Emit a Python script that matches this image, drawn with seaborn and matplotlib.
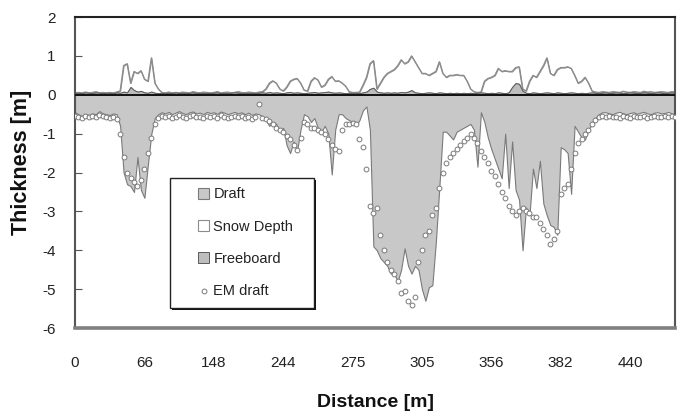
import matplotlib
matplotlib.use("Agg")
import matplotlib.pyplot as plt
from matplotlib.patches import Rectangle
import numpy as np
import pandas as pd
import seaborn as sns

# Along-track profile: one value per sample, labelled by distance every 20 samples
draft = [
    -0.45, -0.50, -0.55, -0.50, -0.52, -0.48, -0.50, -0.42, -0.48, -0.50,
    -0.52, -0.48, -0.50, -0.80, -2.00, -2.30, -2.35, -2.50, -1.60, -2.45,
    -2.65, -1.80, -1.00, -0.60, -0.50, -0.45, -0.48, -0.44, -0.50, -0.46,
    -0.42, -0.47, -0.50, -0.45, -0.43, -0.48, -0.46, -0.50, -0.44, -0.47,
    -0.45, -0.49, -0.43, -0.46, -0.50, -0.47, -0.44, -0.48, -0.45, -0.50,
    -0.46, -0.52, -0.48, -0.50, -0.55, -0.65, -0.80, -0.70, -0.75, -0.95,
    -0.85, -1.30, -1.50, -1.20, -1.45, -0.90, -0.50, -0.55, -0.70, -0.60,
    -0.85, -0.95, -0.80, -1.00, -2.05, -0.90, -0.50, -0.50, -0.60, -0.65,
    -0.70, -0.80, -0.65, -0.40, -0.30, -0.90, -3.90, -4.00, -4.20, -4.30,
    -4.40, -4.60, -4.60, -4.80, -4.50, -3.95, -4.40, -4.60, -4.40, -4.50,
    -5.00, -5.30, -4.95, -4.90, -3.80, -2.40, -0.95, -0.95, -1.05, -1.15,
    -0.95, -0.90, -0.85, -0.80, -0.75, -0.90, -1.85, -0.45, -0.70, -1.10,
    -1.40, -1.65, -1.90, -2.15, -1.00, -2.40, -1.20, -2.45, -2.70, -4.00,
    -2.90, -3.10, -1.90, -2.40, -1.70, -2.80, -3.10, -3.35, -3.40, -3.60,
    -1.35, -1.40, -1.50, -2.55, -0.80, -0.95, -1.10, -1.15, -0.90, -0.75,
    -0.60, -0.50, -0.45, -0.45, -0.48, -0.50, -0.46, -0.44, -0.48, -0.50,
    -0.47, -0.45, -0.49, -0.46, -0.44, -0.48, -0.50, -0.46, -0.45, -0.48,
    -0.47, -0.44, -0.48, -0.50,
]

em_draft = [
    -0.55, -0.58, -0.60, -0.55, -0.57, -0.54, -0.58, -0.52, -0.55, -0.58,
    -0.60, -0.56, -0.62, -1.00, -1.60, -2.00, -2.15, -2.25, -2.35, -2.20,
    -1.90, -1.50, -1.10, -0.75, -0.60, -0.55, -0.58, -0.54, -0.60, -0.56,
    -0.52, -0.57, -0.60, -0.55, -0.53, -0.58, -0.56, -0.60, -0.54, -0.57,
    -0.55, -0.59, -0.53, -0.56, -0.60, -0.57, -0.54, -0.58, -0.55, -0.60,
    -0.56, -0.62, -0.58, -0.25, -0.60, -0.62, -0.68, -0.75, -0.85, -0.90,
    -0.95, -1.05, -1.15, -1.30, -1.42, -1.10, -0.70, -0.75, -0.85, -0.85,
    -0.90, -0.95, -1.00, -1.15, -1.30, -1.40, -1.45, -0.90, -0.75, -0.75,
    -0.72, -0.75, -1.15, -1.35, -1.90, -2.85, -3.05, -2.90, -3.60, -4.00,
    -4.30, -4.50, -4.60, -4.80, -5.10, -5.05, -5.30, -5.40, -5.20, -4.30,
    -4.00, -3.60, -3.50, -3.10, -2.90, -2.40, -2.00, -1.75, -1.60, -1.50,
    -1.40, -1.30, -1.20, -1.10, -1.00, -1.10, -1.25, -1.45, -1.60, -1.75,
    -1.95, -2.10, -2.30, -2.50, -2.65, -2.85, -3.00, -3.10, -3.00, -2.90,
    -3.00, -3.05, -3.15, -3.15, -3.30, -3.45, -3.60, -3.85, -3.70, -3.50,
    -2.55, -2.40, -2.30, -1.90, -1.50, -1.25, -1.15, -1.00, -0.90, -0.75,
    -0.65, -0.58, -0.55, -0.57, -0.54, -0.58, -0.56, -0.60, -0.55, -0.57,
    -0.59, -0.54, -0.56, -0.58, -0.55, -0.60, -0.57, -0.55, -0.58, -0.56,
    -0.54, -0.57, -0.55, -0.58,
]

# Top of the snow layer (freeboard + snow depth)
snow_top = [
    0.05, 0.06, 0.05, 0.07, 0.05, 0.06, 0.08, 0.05, 0.06, 0.05,
    0.06, 0.05, 0.07, 0.10, 0.75, 0.80, 0.30, 0.60, 0.55, 0.62,
    0.40, 0.35, 0.95, 0.30, 0.15, 0.06, 0.05, 0.07, 0.05, 0.06,
    0.05, 0.07, 0.06, 0.05, 0.08, 0.06, 0.05, 0.07, 0.06, 0.05,
    0.06, 0.08, 0.05, 0.06, 0.07, 0.05, 0.06, 0.08, 0.06, 0.05,
    0.07, 0.06, 0.05, 0.07, 0.08, 0.15, 0.30, 0.36, 0.30, 0.15,
    0.10, 0.20, 0.35, 0.40, 0.42, 0.30, 0.12, 0.10, 0.35, 0.44,
    0.38, 0.20, 0.25, 0.40, 0.47, 0.35, 0.36, 0.30, 0.22, 0.08,
    0.06, 0.06, 0.07, 0.25, 0.45, 0.80, 0.88, 0.15, 0.30, 0.45,
    0.55, 0.60, 0.65, 0.75, 0.90, 0.80, 0.85, 1.00, 0.85, 0.70,
    0.55, 0.55, 0.50, 0.55, 0.60, 0.85, 0.55, 0.45, 0.50, 0.50,
    0.52, 0.50, 0.50, 0.35, 0.15, 0.08, 0.06, 0.07, 0.35, 0.42,
    0.45, 0.50, 0.68, 0.60, 0.62, 0.60, 0.60, 0.70, 0.72, 0.15,
    0.10, 0.35, 0.50, 0.45, 0.60, 0.75, 0.95, 0.55, 0.50, 0.65,
    0.70, 0.70, 0.72, 0.68, 0.50, 0.30, 0.35, 0.45, 0.30, 0.10,
    0.07, 0.06, 0.08, 0.07, 0.06, 0.08, 0.07, 0.06, 0.09, 0.07,
    0.06, 0.08, 0.07, 0.06, 0.09, 0.07, 0.08, 0.06, 0.07, 0.08,
    0.07, 0.06, 0.08, 0.07,
]

freeboard = [
    0.04, 0.05, 0.04, 0.06, 0.05, 0.04, 0.06, 0.05, 0.04, 0.05,
    0.05, 0.04, 0.06, 0.05, 0.08, 0.06, 0.20, 0.12, 0.08, 0.10,
    0.06, 0.05, 0.08, 0.05, 0.04, 0.05, 0.04, 0.05, 0.04, 0.06,
    0.04, 0.05, 0.04, 0.05, 0.06, 0.04, 0.05, 0.04, 0.05, 0.04,
    0.05, 0.06, 0.04, 0.05, 0.04, 0.05, 0.06, 0.05, 0.04, 0.05,
    0.04, 0.05, 0.04, 0.05, 0.06, 0.05, 0.07, 0.05, 0.06, 0.05,
    0.04, 0.06, 0.07, 0.05, 0.06, 0.05, 0.04, 0.05, 0.06, 0.07,
    0.05, 0.06, 0.07, 0.08, 0.06, 0.05, 0.06, 0.05, 0.04, 0.05,
    0.04, 0.05, 0.04, 0.06, 0.08, 0.15, 0.18, 0.08, 0.06, 0.05,
    0.06, 0.05, 0.06, 0.05, 0.07, 0.06, 0.08, 0.12, 0.06, 0.05,
    0.04, 0.05, 0.06, 0.05, 0.04, 0.06, 0.05, 0.04, 0.05, 0.04,
    0.05, 0.04, 0.05, 0.04, 0.05, 0.04, 0.05, 0.06, 0.05, 0.04,
    0.05, 0.04, 0.06, 0.05, 0.04, 0.06, 0.20, 0.30, 0.28, 0.10,
    0.05, 0.04, 0.06, 0.05, 0.04, 0.05, 0.06, 0.05, 0.04, 0.06,
    0.05, 0.04, 0.05, 0.06, 0.05, 0.04, 0.05, 0.04, 0.05, 0.06,
    0.05, 0.04, 0.05, 0.06, 0.04, 0.05, 0.06, 0.05, 0.04, 0.05,
    0.06, 0.05, 0.04, 0.05, 0.06, 0.05, 0.04, 0.05, 0.06, 0.05,
    0.04, 0.05, 0.06, 0.05,
]

distance_labels = ["0", "66", "148", "244", "275", "305", "356", "382", "440"]
label_step = 20
y_ticks = [2, 1, 0, -1, -2, -3, -4, -5, -6]

sample = np.arange(len(draft))
df = pd.DataFrame({
    "sample": sample,
    "draft": draft,
    "em_draft": em_draft,
    "snow_top": snow_top,
    "freeboard": freeboard,
})

sns.set_style("white")
plt.rcParams["font.family"] = ["Liberation Sans", "DejaVu Sans"]
plt.rcParams["axes.unicode_minus"] = False

fig = plt.figure(figsize=(6.82, 4.17), dpi=100)
ax = fig.add_axes([0.110, 0.2134, 0.880, 0.7458])

# Ice draft below the waterline
ax.fill_between(df["sample"], 0, df["draft"], facecolor="#c8c8c8",
                edgecolor="#7a7a7a", linewidth=0.8, label="Draft", zorder=2)
# Snow layer above the freeboard
ax.fill_between(df["sample"], df["freeboard"], df["snow_top"], facecolor="white",
                edgecolor="#8c8c8c", linewidth=0.8, label="Snow Depth", zorder=2)
sns.lineplot(data=df, x="sample", y="snow_top", color="#8c8c8c", linewidth=0.9,
             ax=ax, zorder=2)
# Freeboard
ax.fill_between(df["sample"], 0, df["freeboard"], facecolor="#bdbdbd",
                edgecolor="#5a5a5a", linewidth=0.7, label="Freeboard", zorder=2.5)
ax.axhline(0, color="#111111", linewidth=1.4, zorder=3)

# EM-derived draft
sns.scatterplot(data=df, x="sample", y="em_draft", marker="o", s=12,
                color="white", edgecolor="#7a7a7a", linewidth=0.7,
                label="EM draft", ax=ax, zorder=4)

ax.set_xlim(0, len(draft) - 1)
ax.set_ylim(-6, 2)
ax.set_xticks(np.arange(len(distance_labels)) * label_step)
ax.set_xticklabels(distance_labels)
ax.set_yticks(y_ticks)
ax.set_yticklabels([str(v) for v in y_ticks])
ax.tick_params(axis="x", length=0, pad=20, labelsize=11, colors="#222222")
ax.tick_params(axis="y", direction="in", length=5, width=0.8, color="#555555",
               pad=14, labelsize=11, labelcolor="#222222", left=True)

ax.set_xlabel("Distance [m]", fontsize=14, fontweight="bold", color="#111111")
ax.set_ylabel("Thickness [m]", fontsize=15.5, fontweight="bold", color="#111111")
ax.xaxis.set_label_coords(0.5, -0.212)
ax.yaxis.set_label_coords(-0.072, 0.534)

for side, (c, w) in {"left": ("#555555", 1.5), "top": ("#222222", 1.5),
                     "right": ("#555555", 1.5), "bottom": ("#808080", 2.6)}.items():
    ax.spines[side].set_visible(True)
    ax.spines[side].set_color(c)
    ax.spines[side].set_linewidth(w)

# Legend box with a drop shadow
box = (0.158, 0.064, 0.24, 0.418)
ax.add_patch(Rectangle((box[0] + 0.004, box[1] - 0.007), box[2], box[3],
                       transform=ax.transAxes, facecolor="#111111",
                       edgecolor="none", zorder=6))
ax.add_patch(Rectangle(box[:2], box[2], box[3], transform=ax.transAxes,
                       facecolor="white", edgecolor="#222222", linewidth=1.0,
                       zorder=6.5))
handles, labels = ax.get_legend_handles_labels()
leg = ax.legend(handles, labels, loc="upper left", bbox_to_anchor=(0.205, 0.452),
                frameon=False, fontsize=10.5, labelspacing=1.25,
                handlelength=0.75, handleheight=0.75, handletextpad=0.3,
                borderpad=0, borderaxespad=0, markerscale=1.0)
leg.set_zorder(7)
for t in leg.get_texts():
    t.set_color("#222222")

fig.savefig("out.png", dpi=100)
